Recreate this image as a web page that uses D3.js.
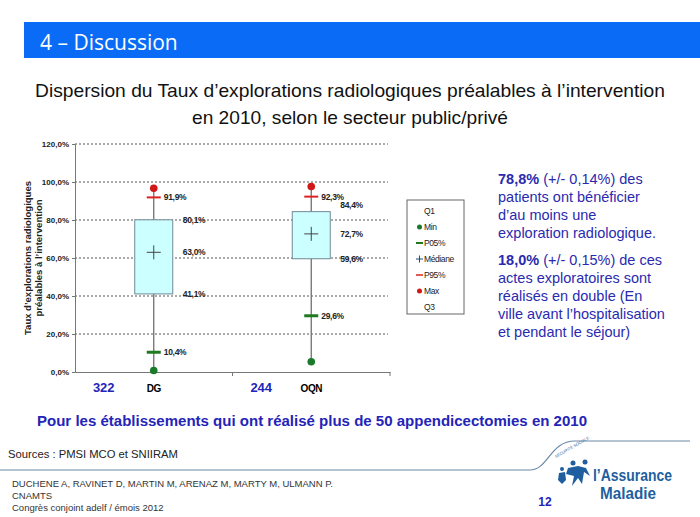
<!DOCTYPE html>
<html>
<head>
<meta charset="utf-8">
<script src="https://cdn.jsdelivr.net/npm/d3@7"></script>
<style>
  body { margin: 0; background: #fff; }
  svg text { font-family: Arial, "Liberation Sans", sans-serif; }
</style>
</head>
<body>
<div id="chart"></div>
<script>
// data
var categories = ["DG", "OQN"]
var counts = [322, 244]
var minV = [0.8, 5.4]
var p05 = [10.4, 29.6]
var q1 = [41.1, 59.6]
var median = [63.0, 72.7]
var q3 = [80.1, 84.4]
var p95 = [91.9, 92.3]
var maxV = [96.7, 97.6]
var yTicks = [0, 20, 40, 60, 80, 100, 120]
var legendItems = ["Q1", "Min", "P05%", "Médiane", "P95%", "Max", "Q3"]

var width = 700, height = 517
var fmt = d => d.toFixed(1).replace('.', ',') + '%'

var svg = d3.select("#chart")
  .append("svg")
  .attr("width", width)
  .attr("height", height)

// header bar
svg.append("rect")
  .attr("x", 24).attr("y", 22)
  .attr("width", width - 24).attr("height", 36)
  .attr("fill", "#0a6cf6")
svg.append("text")
  .attr("x", 40).attr("y", 50)
  .attr("fill", "white")
  .style("font-family", "'Open Sans', sans-serif")
  .style("font-size", "21px")
  .text("4 – Discussion")

// subtitle
var sub = svg.append("g")
  .style("font-family", "'Liberation Sans Narrow', 'Liberation Sans', Arial, sans-serif")
  .style("font-size", "19px")
  .attr("fill", "#111")
sub.append("text").attr("x", 350).attr("y", 97).attr("text-anchor", "middle")
  .attr("textLength", 630).attr("lengthAdjust", "spacingAndGlyphs")
  .text("Dispersion du Taux d’explorations radiologiques préalables à l’intervention")
sub.append("text").attr("x", 350).attr("y", 124).attr("text-anchor", "middle")
  .attr("textLength", 316).attr("lengthAdjust", "spacingAndGlyphs")
  .text("en 2010, selon le secteur public/privé")

// scales
var margin = {left: 75, right: 310, top: 144, bottom: 145}
var xScale = d3.scaleBand()
  .domain(categories)
  .range([margin.left, width - margin.right])
var yScale = d3.scaleLinear()
  .domain([0, 120])
  .range([height - margin.bottom, margin.top])

var boxW = 38
var cx = d => xScale(d) + xScale.bandwidth() / 2

// grid
svg.append("g")
  .selectAll("line")
  .data(yTicks.filter(d => d > 0))
  .enter()
  .append("line")
  .attr("x1", margin.left).attr("x2", width - margin.right - 2)
  .attr("y1", d => yScale(d)).attr("y2", d => yScale(d))
  .attr("stroke", "#555")
  .attr("stroke-dasharray", "2,2")

// y axis
var yAxis = d3.axisLeft(yScale)
  .tickValues(yTicks)
  .tickSize(3)
  .tickFormat(fmt)
var gy = svg.append("g")
  .attr("transform", `translate(${margin.left},0)`)
  .call(yAxis)
gy.select(".domain").attr("stroke", "#777")
gy.selectAll(".tick line").attr("stroke", "#777")
gy.selectAll("text")
  .attr("font-size", "8px")
  .attr("font-weight", "bold")
  .attr("fill", "#222")
  .style("font-family", "Arial, 'Liberation Sans', sans-serif")

// x axis
var xAxis = d3.axisBottom(xScale).tickSize(0).tickFormat('')
var gx = svg.append("g")
  .attr("transform", `translate(0,${yScale(0)})`)
  .call(xAxis)
gx.select(".domain").attr("stroke", "#777")
gx.append("g")
  .selectAll("line")
  .data(categories)
  .enter()
  .append("line")
  .attr("x1", d => xScale(d) + xScale.bandwidth()).attr("x2", d => xScale(d) + xScale.bandwidth())
  .attr("y1", 0).attr("y2", 4)
  .attr("stroke", "#777")

// category labels and counts
svg.selectAll("text.cat")
  .data(categories)
  .enter()
  .append("text")
  .attr("class", "cat")
  .attr("x", d => cx(d))
  .attr("y", yScale(0) + 20)
  .attr("text-anchor", "middle")
  .attr("font-size", "10px")
  .attr("font-weight", "bold")
  .attr("letter-spacing", "-0.5px")
  .text(d => d)
svg.selectAll("text.count")
  .data(categories)
  .enter()
  .append("text")
  .attr("class", "count")
  .attr("x", d => cx(d) - 50)
  .attr("y", yScale(0) + 20)
  .attr("text-anchor", "middle")
  .attr("font-size", "13px")
  .attr("font-weight", "bold")
  .attr("fill", "#2424b8")
  .text((d, i) => counts[i])

// whiskers
svg.selectAll("line.whisker")
  .data(categories)
  .enter()
  .append("line")
  .attr("class", "whisker")
  .attr("x1", d => cx(d)).attr("x2", d => cx(d))
  .attr("y1", (d, i) => yScale(minV[i]))
  .attr("y2", (d, i) => yScale(maxV[i]))
  .attr("stroke", "#707070")
  .attr("stroke-width", 1.3)

// boxes
svg.selectAll("rect.box")
  .data(categories)
  .enter()
  .append("rect")
  .attr("class", "box")
  .attr("x", d => cx(d) - boxW / 2)
  .attr("width", boxW)
  .attr("y", (d, i) => yScale(q3[i]))
  .attr("height", (d, i) => yScale(q1[i]) - yScale(q3[i]))
  .attr("fill", "#ccffff")
  .attr("stroke", "#708a96")
  .attr("stroke-width", 1)

// median cross
var cross = svg.selectAll("g.med")
  .data(categories)
  .enter()
  .append("g")
  .attr("class", "med")
  .attr("transform", (d, i) => `translate(${cx(d)},${yScale(median[i])})`)
cross.append("line").attr("x1", -7).attr("x2", 7).attr("stroke", "#444")
cross.append("line").attr("y1", -7).attr("y2", 7).attr("stroke", "#444")

// P05 / P95 marks
svg.selectAll("line.p05")
  .data(categories)
  .enter()
  .append("line")
  .attr("x1", d => cx(d) - 7).attr("x2", d => cx(d) + 7)
  .attr("y1", (d, i) => yScale(p05[i])).attr("y2", (d, i) => yScale(p05[i]))
  .attr("stroke", "#1f7a1f").attr("stroke-width", 3)
svg.selectAll("line.p95")
  .data(categories)
  .enter()
  .append("line")
  .attr("x1", d => cx(d) - 7).attr("x2", d => cx(d) + 7)
  .attr("y1", (d, i) => yScale(p95[i])).attr("y2", (d, i) => yScale(p95[i]))
  .attr("stroke", "#dd2222").attr("stroke-width", 2)

// min / max dots
svg.selectAll("circle.min")
  .data(categories)
  .enter()
  .append("circle")
  .attr("cx", d => cx(d)).attr("cy", (d, i) => yScale(minV[i]))
  .attr("r", 3.8).attr("fill", "#1a7a2a")
svg.selectAll("circle.max")
  .data(categories)
  .enter()
  .append("circle")
  .attr("cx", d => cx(d)).attr("cy", (d, i) => yScale(maxV[i]))
  .attr("r", 3.8).attr("fill", "#d01818")

// value labels
var labels = []
categories.forEach((c, i) => {
  labels.push({x: cx(c) + 10, y: yScale(p95[i]), v: p95[i]})
  labels.push({x: cx(c) + 10, y: yScale(p05[i]), v: p05[i]})
  labels.push({x: cx(c) + boxW / 2 + 10, y: yScale(q3[i]) - (i === 1 ? 7 : 0), v: q3[i]})
  labels.push({x: cx(c) + boxW / 2 + 10, y: yScale(median[i]), v: median[i]})
  labels.push({x: cx(c) + boxW / 2 + 10, y: yScale(q1[i]), v: q1[i]})
})
svg.selectAll("text.val")
  .data(labels)
  .enter()
  .append("text")
  .attr("class", "val")
  .attr("x", d => d.x)
  .attr("y", d => d.y + 3)
  .attr("font-size", "8.5px")
  .attr("font-weight", "bold")
  .attr("letter-spacing", "-0.3px")
  .attr("fill", "#222")
  .text(d => fmt(d.v))

// y axis title
var yt = svg.append("text")
  .attr("transform", `translate(31,${yScale(60)}) rotate(-90)`)
  .attr("text-anchor", "middle")
  .attr("font-size", "9.5px")
  .attr("font-weight", "bold")
  .attr("fill", "#222")
yt.append("tspan").attr("x", 0).attr("dy", 0).text("Taux d’explorations radiologiques")
yt.append("tspan").attr("x", 0).attr("dy", 11).text("préalables à l’intervention")

// legend
var lg = svg.append("g").attr("transform", "translate(407,200)")
lg.append("rect")
  .attr("width", 57).attr("height", 114)
  .attr("fill", "white").attr("stroke", "#666")
var lgItem = lg.selectAll("g.item")
  .data(legendItems)
  .enter()
  .append("g")
  .attr("transform", (d, i) => `translate(0,${11 + i * 16})`)
lgItem.append("text")
  .attr("x", 17).attr("y", 3)
  .attr("font-size", "8.5px")
  .attr("letter-spacing", "-0.4px")
  .attr("fill", "#222")
  .text(d => d)
lgItem.filter(d => d === "Min" || d === "Max")
  .append("circle")
  .attr("cx", 12.5).attr("cy", 0).attr("r", 2.5)
  .attr("fill", d => d === "Min" ? "#1a7a2a" : "#d01818")
lgItem.filter(d => d === "P05%" || d === "P95%")
  .append("line")
  .attr("x1", 9).attr("x2", 16)
  .attr("stroke", d => d === "P05%" ? "#1f7a1f" : "#dd2222")
  .attr("stroke-width", d => d === "P05%" ? 2 : 1.5)
var medItem = lgItem.filter(d => d === "Médiane")
medItem.append("line").attr("x1", 9).attr("x2", 16).attr("stroke", "#1a4a8a")
medItem.append("line").attr("x1", 12.5).attr("x2", 12.5).attr("y1", -3.5).attr("y2", 3.5).attr("stroke", "#1a4a8a")

// right-hand comment
var note = [
  [["78,8%", true], [" (+/- 0,14%) des", false]],
  [["patients ont bénéficier", false]],
  [["d’au moins une", false]],
  [["exploration radiologique.", false]],
  null,
  [["18,0%", true], [" (+/- 0,15%) de ces", false]],
  [["actes exploratoires sont", false]],
  [["réalisés en double  (En", false]],
  [["ville avant l’hospitalisation", false]],
  [["et pendant  le séjour)", false]]
]
var noteG = svg.append("g")
  .attr("font-size", "14.5px")
  .attr("fill", "#2a2ab0")
var ny = 184
note.forEach(line => {
  if (line === null) { ny += 9; return }
  var t = noteG.append("text").attr("x", 498).attr("y", ny)
  line.forEach(p => {
    t.append("tspan").attr("font-weight", p[1] ? "bold" : "normal").text(p[0])
  })
  ny += 18
})

// footnote line under chart
svg.append("text")
  .attr("x", 37).attr("y", 426)
  .attr("font-size", "14px")
  .attr("font-weight", "bold")
  .attr("fill", "#2424b8")
  .attr("textLength", 550).attr("lengthAdjust", "spacingAndGlyphs")
  .text("Pour les établissements qui ont réalisé plus de 50 appendicectomies en 2010")

svg.append("text")
  .attr("x", 8).attr("y", 458)
  .attr("font-size", "11.5px")
  .attr("fill", "#222")
  .attr("textLength", 170).attr("lengthAdjust", "spacingAndGlyphs")
  .text("Sources : PMSI MCO et SNIIRAM")

// decorative curve
svg.append("path")
  .attr("d", "M0,470 L530,470 C548,470 550,441 575,441 L690,441")
  .attr("fill", "none")
  .attr("stroke", "#6a8aa8")
  .attr("stroke-width", 1.2)

var credits = ["DUCHENE  A, RAVINET D, MARTIN  M, ARENAZ M, MARTY M, ULMANN  P.", "CNAMTS", "Congrès  conjoint adelf / émois 2012"]
svg.selectAll("text.credit")
  .data(credits)
  .enter()
  .append("text")
  .attr("x", 12)
  .attr("y", (d, i) => 487 + i * 12)
  .attr("font-size", "9.5px")
  .attr("fill", "#333")
  .text(d => d)

svg.append("text")
  .attr("x", 545).attr("y", 506)
  .attr("text-anchor", "middle")
  .attr("font-size", "12px")
  .attr("font-weight", "bold")
  .attr("fill", "#2424b8")
  .text("12")

// logo
var logo = svg.append("g").attr("fill", "#1f5f9f")
logo.append("text")
  .attr("x", 593).attr("y", 481)
  .attr("font-size", "16px")
  .attr("font-weight", "bold")
  .attr("textLength", 79).attr("lengthAdjust", "spacingAndGlyphs")
  .text("l’Assurance")
logo.append("text")
  .attr("x", 600).attr("y", 499)
  .attr("font-size", "16px")
  .attr("font-weight", "bold")
  .attr("textLength", 56).attr("lengthAdjust", "spacingAndGlyphs")
  .text("Maladie")
logo.append("circle").attr("cx", 573).attr("cy", 463).attr("r", 2.5)
logo.append("circle").attr("cx", 585).attr("cy", 462).attr("r", 2.5)
logo.append("circle").attr("cx", 562).attr("cy", 469).attr("r", 2)
logo.append("path").attr("d", "M568,468 L578,466 L586,468 L590,476 L584,472 L582,484 L578,478 L572,486 L574,476 L566,474 Z")
logo.append("path").attr("d", "M559,473 L565,472 L566,480 L562,484 L558,480 Z")
logo.append("text")
  .attr("x", 556).attr("y", 458)
  .attr("font-size", "4px")
  .attr("transform", "rotate(-30,556,458)")
  .text("SÉCURITÉ SOCIALE")
</script>
</body>
</html>
